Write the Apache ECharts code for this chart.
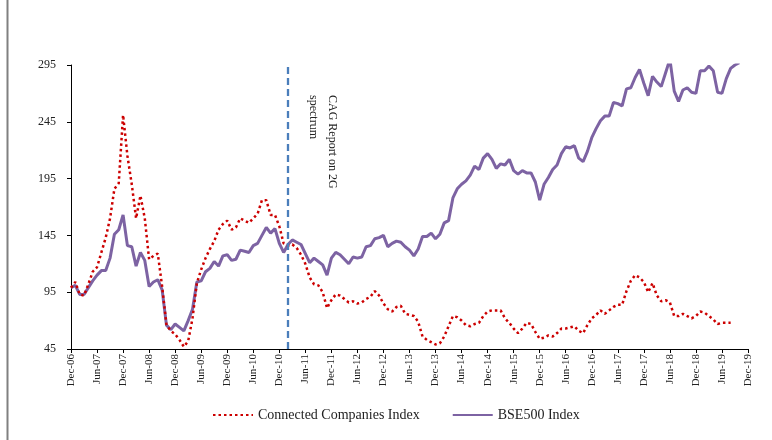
<!DOCTYPE html>
<html>
<head>
<meta charset="utf-8">
<script src="https://cdn.jsdelivr.net/npm/echarts@6/dist/echarts.min.js"></script>
<style>
    html, body { margin: 0; padding: 0; background: #fff; }
    #chart { width: 772px; height: 440px; }
</style>
</head>
<body>
<div id="chart"></div>
<script>
// monthly index values, Dec-06 onwards
var monthNames = ['Jan', 'Feb', 'Mar', 'Apr', 'May', 'Jun', 'Jul', 'Aug', 'Sep', 'Oct', 'Nov', 'Dec'];
var monthCount = 157;

var connectedIndex = [
    99, 104, 93, 92, 102, 113, 117, 130, 143, 160, 186, 191,
    251, 215, 190, 160, 180, 160, 124, 127, 129, 100, 66, 61,
    58, 53, 47, 52, 72, 103, 115, 125, 133, 140, 150, 155,
    158, 150, 152, 160, 158, 156, 160, 164, 176, 176, 163, 163,
    153, 138, 136, 137, 134, 128, 120, 108, 102, 101, 95, 81,
    88, 93, 92, 89, 86, 87, 85, 86, 89, 91, 96, 92,
    85, 80, 78, 82, 83, 76, 75, 74, 69, 56, 53, 51,
    49, 50, 56, 65, 74, 73, 70, 66, 65, 67, 68, 74,
    78, 79, 79, 79, 72, 68, 63, 59, 63, 68, 67, 60,
    54, 55, 57, 56, 59, 63, 63, 64, 65, 61, 59, 66,
    72, 75, 79, 76, 79, 82, 84, 84, 96, 105, 110, 108,
    104, 95, 103, 92, 87, 88, 86, 74, 74, 76, 74, 72,
    74, 78, 77, 74, 71, 67, 68, 68, 68
];

var bse500Index = [
    99, 101, 93, 93, 99, 105, 110, 114, 114, 125, 146, 150,
    163, 136, 135, 118, 130, 123, 100, 104, 106, 97, 66, 62,
    67, 64, 61, 70, 80, 104, 105, 113, 116, 122, 118, 127,
    128, 123, 124, 132, 131, 130, 136, 138, 145, 152, 147, 151,
    138, 130, 137, 141, 139, 137, 129, 121, 125, 122, 119, 110,
    125, 130, 128, 124, 120, 126, 125, 126, 135, 136, 142, 143,
    145, 135, 138, 140, 139, 135, 132, 127, 133, 144, 144, 147,
    142, 146, 156, 158, 178, 186, 190, 193, 198, 206, 203, 213,
    217, 212, 204, 208, 207, 212, 202, 199, 202, 200, 200, 192,
    176, 190, 196, 203, 207, 217, 223, 222, 224, 213, 210, 219,
    231, 239, 246, 250, 250, 262, 261, 259, 274, 275, 284, 291,
    279, 268, 285, 280, 276, 288, 300, 272, 263, 273, 275, 271,
    270, 290, 290, 294, 290, 271, 270, 283, 292, 295, 297
];

var eventIndex = 50; // CAG report marker
var eventText = 'CAG Report on 2G\nspectrum';

var categories = [];
for (var i = 0; i < monthCount; i++) {
    var m = (11 + i) % 12;
    var y = 6 + Math.floor((11 + i) / 12);
    categories.push(monthNames[m] + '-' + (y < 10 ? '0' + y : y));
}

var serif = '"Liberation Serif", "Times New Roman", serif';

var myChart = echarts.init(document.getElementById('chart'));

myChart.setOption({
    animation: false,
    backgroundColor: '#fff',
    grid: {
        left: 71,
        right: 24,
        top: 65,
        bottom: 91
    },
    legend: {
        left: 207,
        top: 403,
        itemWidth: 40,
        itemHeight: 10,
        itemGap: 32,
        itemStyle: { opacity: 0 },
        textStyle: {
            fontFamily: serif,
            fontSize: 14,
            color: '#222'
        },
        data: ['Connected Companies Index', 'BSE500 Index']
    },
    xAxis: {
        type: 'category',
        boundaryGap: false,
        data: categories,
        axisLine: { lineStyle: { color: '#000', width: 1 } },
        axisTick: { interval: 5, length: 4, lineStyle: { color: '#000' } },
        axisLabel: {
            interval: 5,
            rotate: 90,
            margin: 5,
            fontFamily: serif,
            fontSize: 11,
            color: '#222'
        },
        splitLine: { show: false }
    },
    yAxis: {
        type: 'value',
        min: 45,
        max: 295,
        interval: 50,
        axisLine: { show: true, lineStyle: { color: '#000', width: 1 } },
        axisTick: { show: true, length: 4, lineStyle: { color: '#000' } },
        axisLabel: {
            margin: 15,
            fontFamily: serif,
            fontSize: 12,
            color: '#222'
        },
        splitLine: { show: false }
    },
    series: [
        {
            name: 'Connected Companies Index',
            type: 'line',
            symbol: 'none',
            data: connectedIndex,
            itemStyle: { color: '#cc0000' },
            lineStyle: {
                color: '#cc0000',
                width: 2.5,
                type: [2.5, 3]
            },
            z: 3
        },
        {
            name: 'BSE500 Index',
            type: 'line',
            symbol: 'none',
            data: bse500Index,
            itemStyle: { color: '#7d63a3' },
            lineStyle: {
                color: '#7d63a3',
                width: 3
            },
            z: 2,
            markLine: {
                silent: true,
                symbol: 'none',
                label: { show: false },
                lineStyle: {
                    color: '#4a7ebb',
                    width: 2.3,
                    type: [7, 4]
                },
                data: [{ xAxis: categories[eventIndex] }]
            }
        }
    ],
    graphic: [
        {
            type: 'line',
            shape: { x1: 7.5, y1: 0, x2: 7.5, y2: 440 },
            style: { stroke: '#808080', lineWidth: 2 }
        },
        {
            type: 'text',
            x: 342,
            y: 95,
            rotation: -Math.PI / 2,
            style: {
                text: eventText,
                fontFamily: serif,
                fontSize: 12,
                lineHeight: 19,
                fill: '#222',
                align: 'left',
                verticalAlign: 'top'
            }
        }
    ]
});
</script>
</body>
</html>
